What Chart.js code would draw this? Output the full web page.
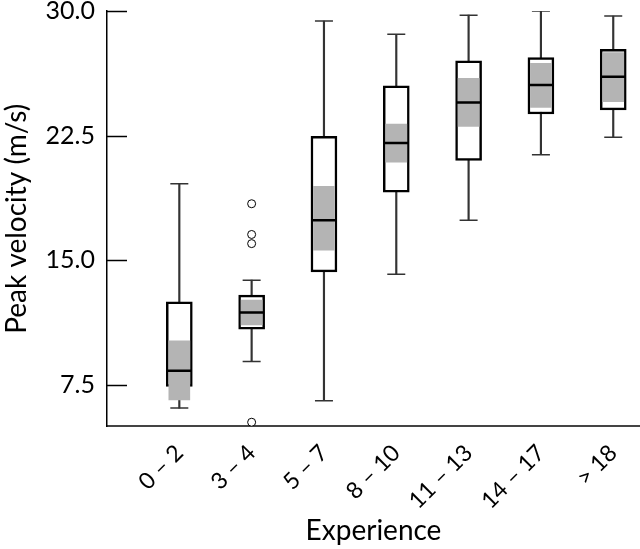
<!DOCTYPE html>
<html>
<head>
<meta charset="utf-8">
<script src="https://cdn.jsdelivr.net/npm/chart.js@4.4.0/dist/chart.umd.min.js"></script>
<style>
  html, body { margin: 0; padding: 0; background: #fff; }
  #wrap { width: 640px; height: 549px; }
</style>
</head>
<body>
<div id="wrap"><canvas id="boxChart" width="640" height="549"></canvas></div>
<script>
// box plot values (m/s), one entry per experience group
const categories = ['0 – 2', '3 – 4', '5 – 7', '8 – 10', '11 – 13', '14 – 17', '> 18'];
const whiskerLow = [6.1, 8.9, 6.55, 14.15, 17.4, 21.35, 22.4];
const whiskerHigh = [19.6, 13.8, 29.4, 28.6, 29.75, 30.0, 29.7];
const q1 = [7.4, 10.85, 14.3, 19.1, 21.0, 23.8, 24.05];
const q3 = [12.5, 12.9, 22.45, 25.5, 27.0, 27.2, 27.7];
const medians = [8.35, 11.85, 17.4, 22.05, 24.5, 25.55, 26.05];
const ciLow = [6.6, 11.1, 15.6, 20.9, 23.05, 24.2, 24.55];
const ciHigh = [10.15, 12.6, 19.45, 23.2, 25.95, 26.85, 27.5];
const outlierGroup = [2, 2, 2, 2];
const outlierValue = [18.4, 16.55, 16.0, 5.25];
const yTicks = [7.5, 15, 22.5, 30];

const xs = categories.map((c, i) => i + 1);
const FONT = 'Lato, "Open Sans", sans-serif';

// short tick marks drawn inside the plot on the y axis
const innerTicks = {
    id: 'innerTicks',
    afterDraw(chart) {
        const ctx = chart.ctx;
        const y = chart.scales.y;
        const left = chart.chartArea.left;
        ctx.save();
        ctx.strokeStyle = '#000';
        ctx.lineWidth = 1.5;
        yTicks.forEach(v => {
            const py = Math.round(y.getPixelForValue(v)) + 0.5;
            ctx.beginPath();
            ctx.moveTo(left, py);
            ctx.lineTo(left + 20, py);
            ctx.stroke();
        });
        ctx.restore();
    }
};

new Chart(document.getElementById('boxChart').getContext('2d'), {
    type: 'bar',
    data: {
        datasets: [
            {
                label: 'whiskers',
                data: xs.map((x, i) => ({ x: x, y: [whiskerLow[i], whiskerHigh[i]] })),
                backgroundColor: '#333',
                barThickness: 1.5,
                grouped: false,
                order: 5
            },
            {
                label: 'box',
                data: xs.map((x, i) => ({ x: x, y: [q1[i], q3[i]] })),
                backgroundColor: '#fff',
                borderColor: '#000',
                borderWidth: 2.5,
                borderSkipped: false,
                barThickness: 26,
                grouped: false,
                order: 4
            },
            {
                label: 'ci',
                data: xs.map((x, i) => ({ x: x, y: [ciLow[i], ciHigh[i]] })),
                backgroundColor: '#b4b4b4',
                barThickness: 21,
                grouped: false,
                order: 3
            },
            {
                type: 'scatter',
                label: 'caps',
                data: xs.map((x, i) => ({ x: x, y: whiskerLow[i] }))
                    .concat(xs.map((x, i) => ({ x: x, y: whiskerHigh[i] }))),
                pointStyle: 'line',
                radius: 9,
                borderWidth: 1.5,
                borderColor: '#333',
                order: 2
            },
            {
                type: 'scatter',
                label: 'median',
                data: xs.map((x, i) => ({ x: x, y: medians[i] })),
                pointStyle: 'line',
                radius: 12.5,
                borderWidth: 2.5,
                borderColor: '#000',
                order: 1
            },
            {
                type: 'scatter',
                label: 'outliers',
                data: outlierGroup.map((g, i) => ({ x: g, y: outlierValue[i] })),
                pointStyle: 'circle',
                radius: 4,
                backgroundColor: '#fff',
                borderColor: '#000',
                borderWidth: 1,
                order: 0
            }
        ]
    },
    options: {
        responsive: false,
        animation: false,
        events: [],
        layout: { autoPadding: false, padding: { top: 11, right: 0, bottom: 0, left: 0 } },
        plugins: { legend: { display: false }, tooltip: { enabled: false } },
        scales: {
            x: {
                type: 'linear',
                offset: false,
                min: 0,
                max: 7.37,
                afterBuildTicks: s => { s.ticks = xs.map(v => ({ value: v })); },
                afterFit: s => { s.paddingLeft = 0; s.paddingRight = 0; },
                grid: { display: false, drawTicks: false },
                border: { color: '#444', width: 2 },
                ticks: {
                    callback: v => categories[Math.round(v) - 1],
                    minRotation: 45,
                    maxRotation: 45,
                    autoSkip: false,
                    padding: 13,
                    color: '#000',
                    font: { family: FONT, size: 23 }
                },
                title: {
                    display: true,
                    text: 'Experience',
                    color: '#000',
                    padding: { top: -13, bottom: 1 },
                    font: { family: FONT, size: 28 }
                }
            },
            y: {
                min: 5,
                max: 30,
                afterBuildTicks: s => { s.ticks = yTicks.map(v => ({ value: v })); },
                afterFit: s => { s.paddingTop = 0; s.paddingBottom = 0; },
                grid: { display: false, drawTicks: false },
                border: { color: '#000', width: 1.5 },
                ticks: {
                    callback: v => v.toFixed(1),
                    padding: 12,
                    color: '#000',
                    font: { family: FONT, size: 25, lineHeight: 0.8 }
                },
                title: {
                    display: true,
                    text: 'Peak velocity (m/s)',
                    color: '#000',
                    padding: { top: 0, bottom: 0 },
                    font: { family: FONT, size: 28 }
                }
            }
        }
    },
    plugins: [innerTicks]
});
</script>
</body>
</html>
